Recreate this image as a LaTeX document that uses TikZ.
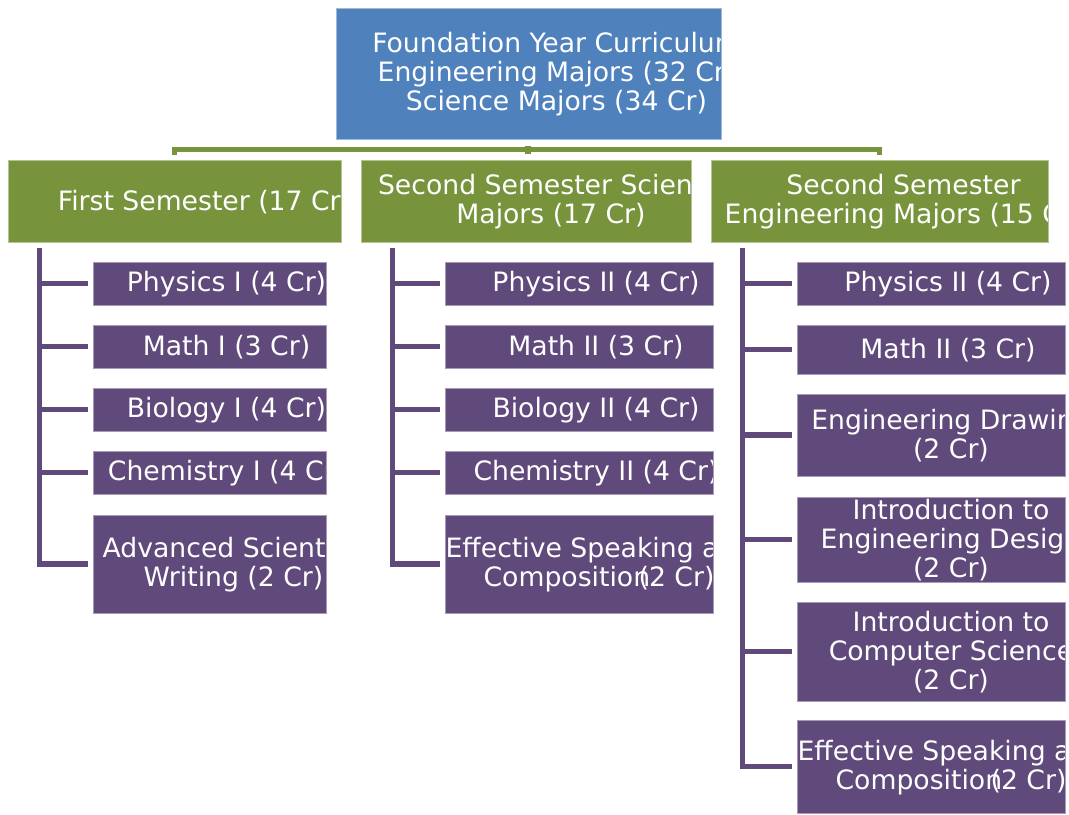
\documentclass[tikz,border=0pt]{standalone}
\usepackage{fontspec}
\setmainfont{DejaVu Sans}
\usetikzlibrary{fit}
\definecolor{hdblue}{HTML}{4F81BD}
\definecolor{semgreen}{HTML}{77933C}
\definecolor{crspurple}{HTML}{604A7B}

\begin{document}
\begin{tikzpicture}[x=0.75pt,y=-0.75pt,
  box/.style={inner sep=0pt, line width=0.6pt},
  head/.style={box, fill=hdblue, draw=hdblue!55!white},
  sem/.style={box, fill=semgreen, draw=semgreen!55!white},
  crs/.style={box, fill=crspurple, draw=crspurple!55!white},
  txt/.style 2 args={path picture={
    \node[draw=none, fill=none, anchor=center, inner sep=0pt,
      minimum width=0pt, minimum height=0pt, text width={}, text height={},
      text depth={}, text=white, align=center,
      font=\fontsize{20pt}{21.75pt}\selectfont]
      at ([shift={(#1,1)}]path picture bounding box.center) {#2};}},
  gline/.style={draw=semgreen, line width=4.2pt},
  pline/.style={draw=crspurple, line width=3.9pt},
]
\useasboundingbox (0,0) rectangle (1069,814);

% top and semesters
\node[head, fit={(336,8) (721,139)},
  txt={28}{Foundation Year Curriculum\\Engineering Majors (32 Cr)\\Science Majors (34 Cr)}] (found) {};
\node[sem, fit={(8,160) (341,242)}, txt={30}{First Semester (17 Cr)}] (sem1) {};
\node[sem, fit={(361,160) (691,242)}, txt={25}{Second Semester Science\\Majors (17 Cr)}] (sem2) {};
\node[sem, fit={(711,160) (1048,242)}, txt={24}{Second Semester\\Engineering Majors (15 Cr)}] (sem3) {};

% first semester
\node[crs, fit={(93,262) (326,305)}, txt={17}{Physics I (4 Cr)}] (c11) {};
\node[crs, fit={(93,325) (326,368)}, txt={17}{Math I (3 Cr)}] (c12) {};
\node[crs, fit={(93,388) (326,431)}, txt={17}{Biology I (4 Cr)}] (c13) {};
\node[crs, fit={(93,451) (326,494)}, txt={17}{Chemistry I (4 Cr)}] (c14) {};
\node[crs, fit={(93,515) (326,613)}, txt={24}{Advanced Scientific\\Writing (2 Cr)}] (c15) {};

% second semester, science
\node[crs, fit={(445,262) (713,305)}, txt={17}{Physics II (4 Cr)}] (c21) {};
\node[crs, fit={(445,325) (713,368)}, txt={17}{Math II (3 Cr)}] (c22) {};
\node[crs, fit={(445,388) (713,431)}, txt={17}{Biology II (4 Cr)}] (c23) {};
\node[crs, fit={(445,451) (713,494)}, txt={17}{Chemistry II (4 Cr)}] (c24) {};
\node[crs, fit={(445,515) (713,613)},
  txt={20}{Effective Speaking and\\Compositio\rlap{n}\hspace{0.2em}(2 Cr)}] (c25) {};

% second semester, engineering
\node[crs, fit={(797,262) (1065,305)}, txt={17}{Physics II (4 Cr)}] (c31) {};
\node[crs, fit={(797,325) (1065,374)}, txt={17}{Math II (3 Cr)}] (c32) {};
\node[crs, fit={(797,394) (1065,476)}, txt={20}{Engineering Drawing\\(2 Cr)}] (c33) {};
\node[crs, fit={(797,497) (1065,582)}, txt={20}{Introduction to\\Engineering Design\\(2 Cr)}] (c34) {};
\node[crs, fit={(797,602) (1065,701)}, txt={20}{Introduction to\\Computer Science\\(2 Cr)}] (c35) {};
\node[crs, fit={(797,720) (1065,813)},
  txt={20}{Effective Speaking and\\Compositio\rlap{n}\hspace{0.2em}(2 Cr)}] (c36) {};

% green connectors
\coordinate (bar) at ([shift={(0,-10)}]sem2.north);
\draw[gline] ([shift={(0,-5)}]sem1.north) |- (bar) -| ([shift={(0,-5)}]sem3.north);
\draw[gline] ([shift={(2,-14)}]sem2.north) -- ([shift={(2,-6)}]sem2.north);

% purple connectors
\coordinate (t1) at ([shift={(32,6)}]sem1.south west);
\coordinate (t2) at ([shift={(32,6)}]sem2.south west);
\coordinate (t3) at ([shift={(32,6)}]sem3.south west);
\draw[pline] (t1) |- ([shift={(-5,0)}]c15.west);
\draw[pline] (t2) |- ([shift={(-5,0)}]c25.west);
\draw[pline] (t3) |- ([shift={(-5,0)}]c36.west);
\foreach \c in {c11,c12,c13,c14}
  \draw[pline] (t1 |- \c.west) -- ([shift={(-5,0)}]\c.west);
\foreach \c in {c21,c22,c23,c24}
  \draw[pline] (t2 |- \c.west) -- ([shift={(-5,0)}]\c.west);
\foreach \c in {c31,c32,c33,c34,c35}
  \draw[pline] (t3 |- \c.west) -- ([shift={(-5,0)}]\c.west);
\end{tikzpicture}
\end{document}
